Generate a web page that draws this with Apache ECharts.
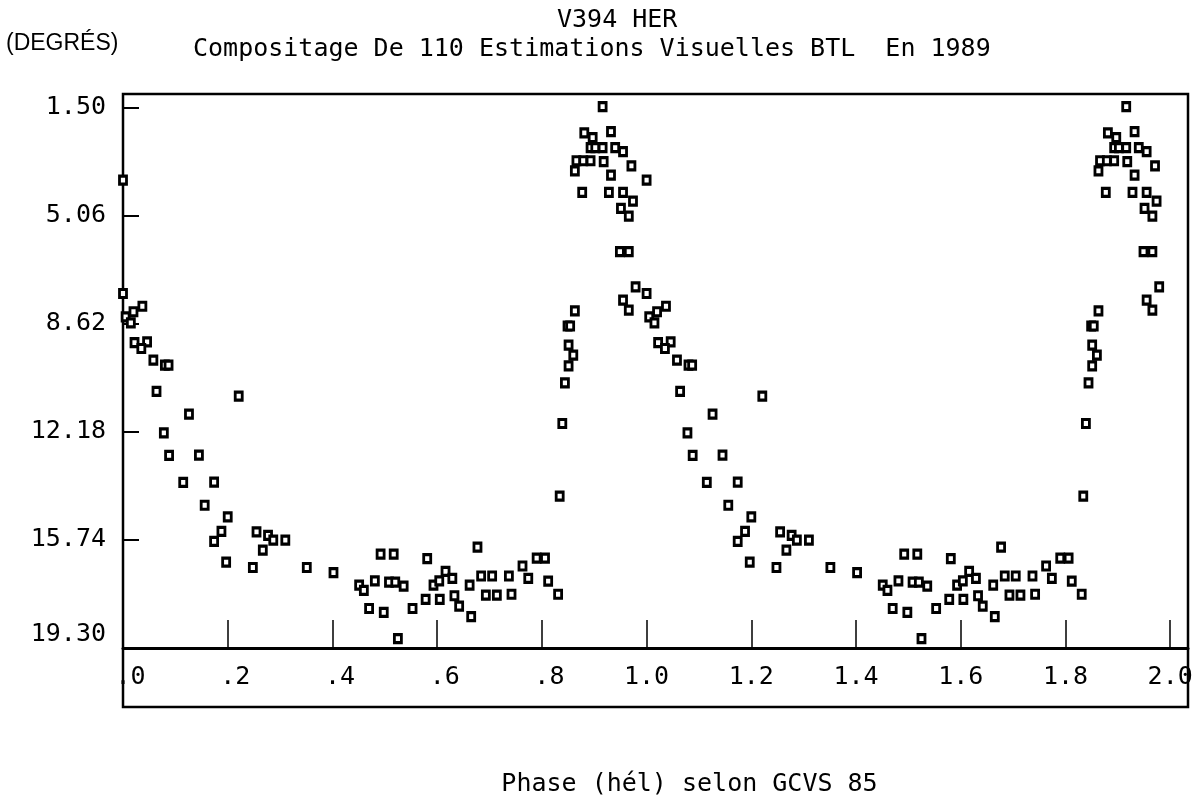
<!DOCTYPE html>
<html>
<head>
<meta charset="utf-8">
<title>V394 HER</title>
<script src="https://cdn.jsdelivr.net/npm/echarts@6/dist/echarts.min.js"></script>
<style>
  html, body { margin: 0; padding: 0; background: #fff; }
  #chart { width: 1199px; height: 806px; }
</style>
</head>
<body>
<div id="chart"></div>
<script>
  // phases (0..1) et magnitudes, chaque point est repete a phase+1
  const phase = [
    0.000, 0.000, 0.005, 0.015, 0.020, 0.037, 0.022, 0.046, 0.035, 0.058,
    0.080, 0.087, 0.064, 0.221, 0.126, 0.078, 0.088, 0.145, 0.115, 0.174,
    0.156, 0.200, 0.188, 0.174, 0.255, 0.277, 0.287, 0.310, 0.267, 0.197,
    0.248, 0.351, 0.402, 0.451, 0.460, 0.481, 0.492, 0.517, 0.508, 0.520,
    0.536, 0.470, 0.498, 0.525, 0.553, 0.581, 0.578, 0.593, 0.604, 0.605,
    0.616, 0.629, 0.633, 0.642, 0.662, 0.665, 0.677, 0.684, 0.705, 0.693,
    0.714, 0.737, 0.742, 0.763, 0.774, 0.790, 0.806, 0.812, 0.831, 0.834,
    0.839, 0.844, 0.851, 0.860, 0.851, 0.849, 0.854, 0.863, 0.916, 0.881,
    0.897, 0.932, 0.893, 0.902, 0.916, 0.940, 0.955, 0.866, 0.879, 0.893,
    0.918, 0.971, 0.863, 0.932, 0.877, 0.928, 0.955, 0.974, 0.951, 0.966,
    0.949, 0.966, 0.979, 0.955, 0.966
  ]
  const magnitude = [
    3.90, 7.63, 8.40, 8.60, 8.23, 8.05, 9.25, 9.22, 9.44, 9.82,
    9.99, 9.99, 10.85, 11.01, 11.60, 12.22, 12.96, 12.95, 13.85, 13.84,
    14.60, 14.98, 15.46, 15.79, 15.48, 15.59, 15.75, 15.75, 16.08, 16.47,
    16.65, 16.65, 16.82, 17.23, 17.40, 17.09, 16.21, 16.21, 17.13, 17.13,
    17.26, 18.00, 18.13, 18.99, 18.00, 16.36, 17.70, 17.23, 17.09, 17.70,
    16.78, 17.01, 17.58, 17.92, 17.23, 18.27, 15.98, 16.93, 16.93, 17.56,
    17.56, 16.93, 17.53, 16.60, 17.01, 16.34, 16.34, 17.10, 17.53, 14.30,
    11.91, 10.57, 10.01, 9.66, 9.33, 8.70, 8.70, 8.20, 1.48, 2.34,
    2.50, 2.30, 2.83, 2.83, 2.83, 2.83, 2.96, 3.26, 3.26, 3.26,
    3.29, 3.43, 3.59, 3.73, 4.30, 4.30, 4.30, 4.59, 4.83, 5.08,
    6.25, 6.25, 7.41, 7.85, 8.18
  ]
  const yTicks = [1.50, 5.06, 8.62, 12.18, 15.74, 19.30]
  const xTicks = [0, 0.2, 0.4, 0.6, 0.8, 1.0, 1.2, 1.4, 1.6, 1.8, 2.0]

  const FONT = "'DejaVu Sans Mono', 'Liberation Mono', monospace"
  const INK = '#000'

  let points = []
  for (let i = 0; i < phase.length; i++) {
    points.push([phase[i], magnitude[i]])
    points.push([phase[i] + 1, magnitude[i]])
  }

  const myChart = echarts.init(document.getElementById('chart'), null, {renderer: 'canvas'})
  const option = {
    backgroundColor: '#fff',
    animation: false,
    title: [
      {
        text: 'V394 HER', left: 557, top: 8, padding: 0,
        textStyle: {fontFamily: FONT, fontSize: 25, fontWeight: 'normal', color: INK}
      },
      {
        text: 'Compositage De 110 Estimations Visuelles BTL  En 1989', left: 193, top: 37, padding: 0,
        textStyle: {fontFamily: FONT, fontSize: 25, fontWeight: 'normal', color: INK}
      },
      {
        text: '(DEGRÉS)', left: 6, top: 32, padding: 0,
        textStyle: {fontFamily: "'Liberation Sans', sans-serif", fontSize: 23, fontWeight: 'normal', color: INK}
      }
    ],
    grid: {left: 123, top: 94, width: 1065, height: 554, containLabel: false},
    xAxis: {
      type: 'value',
      min: 0,
      max: 2.034,
      name: 'Phase (hél) selon GCVS 85',
      nameLocation: 'middle',
      nameGap: 124,
      nameTextStyle: {fontFamily: FONT, fontSize: 25, color: INK, padding: [0, 0, 0, 68]},
      splitLine: {show: false},
      axisLine: {show: true, lineStyle: {color: INK, width: 3}},
      axisTick: {show: true, inside: true, length: 28, customValues: xTicks, lineStyle: {color: INK, width: 1.5}},
      axisLabel: {
        customValues: xTicks,
        margin: 17,
        fontFamily: FONT,
        fontSize: 25,
        color: INK,
        // le point decimal tombe sur la graduation
        formatter: function (v) {
          return v < 1 ? ' ' + v.toFixed(1).slice(1) : v.toFixed(1)
        }
      }
    },
    yAxis: {
      type: 'value',
      inverse: true,
      min: 1.062,
      max: 19.30,
      splitLine: {show: false},
      axisLine: {show: true, lineStyle: {color: INK, width: 2}},
      axisTick: {show: true, inside: true, length: 16, customValues: yTicks, lineStyle: {color: INK, width: 2}},
      axisLabel: {
        customValues: yTicks,
        margin: 17,
        fontFamily: FONT,
        fontSize: 25,
        color: INK,
        formatter: function (v) {
          return v > 19 ? '{low|' + v.toFixed(2) + '}' : v.toFixed(2)
        },
        rich: {
          low: {fontFamily: FONT, fontSize: 25, color: INK, padding: [0, 0, 28, 0]}
        }
      }
    },
    graphic: [
      {
        type: 'rect',
        shape: {x: 123, y: 94, width: 1065, height: 613},
        style: {fill: 'none', stroke: INK, lineWidth: 2.5},
        silent: true
      }
    ],
    series: [
      {
        type: 'scatter',
        data: points,
        symbol: 'rect',
        symbolSize: [7, 8],
        clip: false,
        itemStyle: {color: '#fff', borderColor: INK, borderWidth: 3, opacity: 1}
      }
    ]
  }
  myChart.setOption(option)
</script>
</body>
</html>
